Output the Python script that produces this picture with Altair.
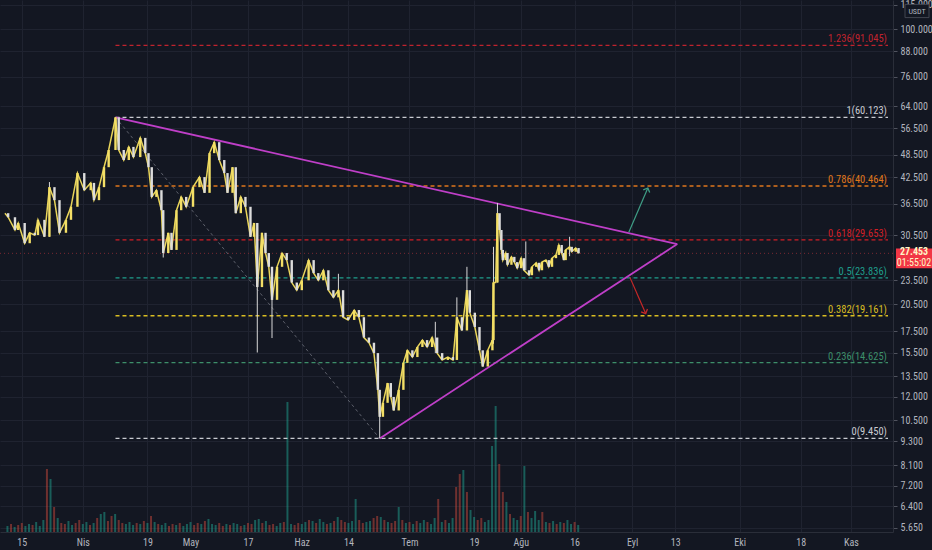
import altair as alt
import pandas as pd

BG = "#131722"
GRID = "#1f2330"
AXIS_TXT = "#b2b5be"
FONT = "Liberation Sans Narrow, Roboto Condensed, Liberation Sans, sans-serif"

# ---------------- axis ticks ----------------
tick_days = [0, 17, 35, 47, 63, 78, 91, 108, 126, 139, 154, 170, 182, 200, 217, 231]
tick_labels = ["15", "Nis", "19", "May", "17", "Haz", "14", "Tem", "19", "Ağu", "16",
               "Eyl", "13", "Eki", "18", "Kas"]
price_ticks = [5.65, 6.4, 7.2, 8.1, 9.3, 10.5, 12, 13.5, 15.5, 17.5, 20.5, 23.5, 30.5,
               36.5, 42.5, 48.5, 56.5, 64, 76, 88, 100, 115]
X_MIN, X_MAX = -4.68, 241.3
Y_MIN, Y_MAX = 5.51, 118.2

# ---------------- price path (day offset from 15 Mar, close) ----------------
day = [-4.7, -3.8, -1.9, -1.0, 0.8, 2.2, 3.6, 4.5, 6.3, 7.7, 9.1, 10.5, 12.3, 13.7, 15.5,
       17.4, 19.2, 20.1, 21.5, 22.9, 24.2, 26.1, 27.0, 28.4, 29.8, 31.1, 33.0, 34.4, 35.3,
       36.2, 37.5, 38.9, 39.4, 40.8, 41.7, 43.1, 44.4, 45.8, 47.7, 49.5, 50.9, 52.3, 53.6,
       55.0, 56.4, 57.3, 58.7, 59.6, 61.0, 62.3, 63.7, 64.7, 65.6, 66.9, 67.9, 68.8, 69.7,
       71.1,
       72.5, 73.8, 75.2, 76.6, 78.0, 79.9, 81.3, 82.6, 84.0, 85.4, 86.8, 88.2, 89.5, 90.9,
       92.6, 93.9, 95.3, 96.7, 98.1, 99.2, 99.7, 100.6, 101.9, 102.8, 103.6, 105.0, 106.3,
       107.4, 108.8, 110.2, 111.6, 112.9, 114.3, 115.7, 117.1, 118.7, 120.1, 121.2, 122.6,
       124.0, 124.8, 126.2, 127.5, 128.4, 129.8, 131.1, 131.4, 132.0, 132.5, 133.1, 133.6,
       134.0, 134.8, 135.3, 136.4, 137.2, 138.0, 139.1, 139.9, 141.3, 142.1, 143.3, 144.1,
       144.9, 146.0, 146.8, 147.7, 148.8, 149.6, 150.4, 151.0, 151.5, 152.6, 153.2, 154.3,
       155.1]
close = [34.6, 33.8, 31.4, 32.7, 29.1, 30.9, 30.5, 33.3, 30.2, 40.2, 37.3, 30.9, 33.3, 35.9,
         43.6, 39.5, 41.2, 37.3, 40.2, 45.1, 49.8, 60.1, 49.8, 47.0, 50.7, 47.8, 53.4, 48.9,
         45.1, 38.0, 39.5, 35.2, 27.5, 30.9, 28.0, 35.2, 38.0, 35.9, 40.2, 42.6, 38.9, 48.9,
         52.1, 47.0, 43.6, 38.9, 45.1, 34.6, 38.0, 35.9, 30.2, 32.7, 22.6, 30.9, 27.5, 25.4,
         21.0, 25.4,
         27.5, 26.4, 23.2, 22.2, 23.5, 26.4, 24.5, 23.5, 24.9, 22.2, 21.3, 22.2, 19.0, 18.7,
         19.8, 19.0, 16.9, 16.4, 15.45, 12.5, 10.7, 11.6, 13.0, 12.0, 11.1, 12.5, 14.6, 15.7,
         15.1, 16.0, 16.65, 16.0, 16.9, 15.45, 14.85, 15.1, 14.85, 19.0, 17.6, 22.2, 19.5,
         17.95, 15.7, 14.3, 15.7, 16.65, 23.2, 23.2, 34.6, 31.4, 28.0,
         26.4, 27.5, 25.7, 26.9, 26.1, 25.2, 26.7, 24.9, 24.2, 25.4, 26.0, 24.9, 26.1, 26.4,
         25.4, 26.7, 27.2, 28.8, 27.5, 26.4, 28.0, 28.5, 27.7, 28.3, 27.45]

# notable wicks: day, low, high
wick_day = [7.7, 26.1, 39.4, 65.6, 69.7, 88.2, 99.7, 115.2, 121.2, 124.0, 131.4, 132.5, 140.4, 152.6]
wick_low = [30.2, 49.8, 26.8, 15.5, 16.85, 21.5, 9.45, 15.45, 17.0, 19.5, 16.3, 23.2, 24.9, 27.0]
wick_high = [41.4, 60.12, 35.2, 32.7, 25.4, 24.4, 12.5, 18.5, 21.3, 25.4, 28.5, 36.7, 29.4, 30.2]

# ---------------- volume (daily) ----------------
vol_day = list(range(-4, 156))
vol = [6, 8, 5, 7, 9, 6, 8, 7, 10, 6, 12, 63, 53, 25, 14, 9, 8, 11, 7, 9,
       12, 8, 10, 7, 9, 14, 18, 20, 11, 16, 18, 12, 9, 8, 10, 7, 9, 8, 11, 9,
       16, 10, 8, 7, 9, 6, 8, 7, 9, 6, 8, 10, 7, 9, 8, 11, 13, 8, 7, 9,
       6, 8, 7, 9, 8, 6, 7, 9, 8, 12, 13, 9, 11, 7, 8, 6, 9, 10, 130, 8,
       7, 9, 8, 10, 12, 11, 9, 13, 10, 8, 9, 11, 15, 12, 10, 9, 11, 33, 12, 9,
       10, 11, 14, 16, 15, 12, 10, 9, 11, 25, 12, 9, 10, 8, 11, 9, 12, 10, 8, 14,
       33, 10, 12, 9, 14, 45, 58, 62, 40, 22, 15, 12, 14, 10, 12, 86, 126, 68, 40, 30,
       18, 14, 12, 16, 66, 20, 14, 21, 12, 20, 10, 9, 11, 8, 10, 9, 12, 8, 10, 7]
vol_dir = list("grgrrggrgg" "grgrgrrggr" "rggrgrggrr" "grrgggrgrg" "rgrggrrgrg"
               "ggrrgrgggr" "rgrggrgrrg" "grgrrggrgg" "rrggrgrggr" "grgrrgggrr"
               "ggrrgrgrrg" "rgrgrggrgg" "rgrggrrgrg" "grrggggrrg" "rggrgrgggr"
               "grgrgrggrg")
vol_colors = {"g": "#1fa38f", "r": "#cc4a3c"}

# ---------------- fibonacci levels ----------------
fib_ratio = ["1.236", "1", "0.786", "0.618", "0.5", "0.382", "0.236", "0"]
fib_price = [91.045, 60.123, 40.464, 29.653, 23.836, 19.161, 14.625, 9.450]
fib_color = ["#c0232e", "#c9cbd1", "#e0771c", "#d11f26", "#1f9e8c", "#d9bd22", "#3d8f6a", "#c9cbd1"]
fib_start_day = 26.1

# ---------------- drawings ----------------
tri_name = ["upper", "upper", "lower", "lower"]
tri_day = [26.1, 182.6, 99.7, 182.6]
tri_price = [60.123, 28.96, 9.45, 28.96]
diag_day = [26.1, 99.7]
diag_price = [60.123, 9.45]
arrow_name = ["up", "up", "down", "down"]
arrow_day = [169.1, 174.4, 169.4, 173.8]
arrow_price = [31.0, 40.0, 23.9, 19.4]
arrow_head_angle = [23, 156]
arrow_color = ["#3f9e86", "#c62828"]

last_price = [27.453]
last_time = ["01:55:02"]
quote_ccy = ["USDT"]

# ---------------- data frames ----------------
opens = [close[0]] + close[:-1]
candles = pd.DataFrame({"day": day, "open": opens, "close": close})
candles["col"] = ["#f3df66" if c >= o else "#dcdcdc" for o, c in zip(opens, close)]
wicks = pd.DataFrame({"day": wick_day, "low": wick_low, "high": wick_high})
volume = pd.DataFrame({"day": vol_day, "vol": vol})
volume["col"] = [vol_colors[d] for d in vol_dir]
fib = pd.DataFrame({"ratio": fib_ratio, "price": fib_price, "col": fib_color})
fib["label"] = [f"{r}({p:.3f})" for r, p in zip(fib_ratio, fib_price)]
fib["start"] = fib_start_day
fib["end"] = X_MAX
fib["lx"] = X_MAX - 0.3
tri = pd.DataFrame({"name": tri_name, "day": tri_day, "price": tri_price})
diag = pd.DataFrame({"day": diag_day, "price": diag_price})
arrows = pd.DataFrame({"name": arrow_name, "day": arrow_day, "price": arrow_price})
arrows["col"] = [arrow_color[0] if n == "up" else arrow_color[1] for n in arrow_name]
heads = pd.DataFrame({"name": ["up", "down"], "day": arrow_day[1::2],
                      "price": arrow_price[1::2], "angle": arrow_head_angle,
                      "col": arrow_color})
last = pd.DataFrame({"day": [X_MAX], "price": last_price, "time": last_time})
ccy = pd.DataFrame({"ccy": quote_ccy})

# ---------------- encodings ----------------
x_expr = ("[" + ",".join(f"'{l}'" for l in tick_labels) + "][indexof(["
          + ",".join(str(d) for d in tick_days) + "], datum.value)]")
x_axis = alt.Axis(values=tick_days, labelExpr=x_expr, title=None, grid=True, gridColor=GRID,
                  ticks=False, domain=True, domainColor="#2a2e39", labelColor=AXIS_TXT,
                  labelFontSize=10, labelFont=FONT, labelPadding=5, labelFlush=False)
x_scale = alt.Scale(domain=[X_MIN, X_MAX], nice=False, zero=False)
y_axis = alt.Axis(orient="right", values=price_ticks, format=".3f", title=None, grid=True,
                  gridColor=GRID, ticks=True, tickSize=4, tickColor="#50535e", domain=True,
                  domainColor="#2a2e39", labelColor=AXIS_TXT, labelFontSize=10,
                  labelFont=FONT, labelPadding=3, labelFlush=False, labelOverlap=False)
y_scale = alt.Scale(type="log", domain=[Y_MIN, Y_MAX], nice=False, zero=False)


def X(f):
    return alt.X(f, type="quantitative", scale=x_scale, axis=x_axis)


def Y(f):
    return alt.Y(f, type="quantitative", scale=y_scale, axis=y_axis)


def C(f):
    return alt.Color(f, type="nominal", scale=None)


# volume
vol_layer = alt.Chart(volume).mark_bar(width=2, opacity=0.5).encode(
    x=X("day"),
    y=alt.Y("vol:Q", scale=alt.Scale(domain=[0, 532], nice=False), axis=None),
    color=C("col"),
)

price_line = alt.Chart(last).mark_rule(color="#7a2a33", strokeDash=[1, 3], strokeWidth=1).encode(
    x=alt.value(0), x2=alt.value(893), y=Y("price"))

fib_rules = alt.Chart(fib).mark_rule(strokeWidth=1.3, strokeDash=[4, 3]).encode(
    x=X("start"), x2="end", y=Y("price"), color=C("col"))
fib_text = alt.Chart(fib).mark_text(align="right", baseline="bottom", dy=-1, fontSize=10.5,
                                    font=FONT).encode(
    x=X("lx"), y=Y("price"), text="label:N", color=C("col"))

diag_layer = alt.Chart(diag).mark_line(color="#5d606b", strokeDash=[3, 3], strokeWidth=1).encode(
    x=X("day"), y=Y("price"))

tri_layer = alt.Chart(tri).mark_line(color="#bf3fc8", strokeWidth=1.8).encode(
    x=X("day"), y=Y("price"), detail="name:N")

arrow_lines = alt.Chart(arrows).mark_line(strokeWidth=1.2).encode(
    x=X("day"), y=Y("price"), detail="name:N", color=C("col"))
arrow_heads = alt.Chart(heads).mark_point(shape="M-1,1L0,0L1,1", filled=False, size=49,
                                          strokeWidth=1.3, opacity=1).encode(
    x=X("day"), y=Y("price"), angle=alt.Angle("angle:Q", scale=None), color=C("col"))

wick_layer = alt.Chart(wicks).mark_rule(color="#d8d8d8", strokeWidth=1).encode(
    x=X("day"), y=Y("low"), y2="high")

close_line = alt.Chart(candles).mark_line(color="#e9d55a", strokeWidth=1.5).encode(
    x=X("day"), y=Y("close"))

bodies = alt.Chart(candles).mark_rule(strokeWidth=2.4).encode(
    x=X("day"), y=Y("open"), y2="close", color=C("col"))

price_box = alt.Chart(last).mark_point(shape="M-1,-0.55L1,-0.55L1,0.55L-1,0.55Z", filled=True,
                                       size=1296, color="#f23645", opacity=1, yOffset=5).encode(
    x=alt.value(914), y=Y("price"))
price_txt = alt.Chart(last).mark_text(color="#fff6c8", fontSize=10, font=FONT, dy=-1,
                                      fontWeight="bold").encode(
    x=alt.value(914), y=Y("price"), text=alt.Text("price:Q", format=".3f"))
time_txt = alt.Chart(last).mark_text(color="#fff6c8", fontSize=10, font=FONT, dy=10).encode(
    x=alt.value(914), y=Y("price"), text="time:N")

ccy_box = alt.Chart(ccy).mark_point(shape="M-1,-0.55L1,-0.55L1,0.55L-1,0.55Z", filled=True,
                                    size=576, color=BG, stroke="#434651", strokeWidth=1,
                                    opacity=1).encode(x=alt.value(917), y=alt.value(11))
ccy_txt = alt.Chart(ccy).mark_text(color=AXIS_TXT, fontSize=8, font=FONT).encode(
    x=alt.value(917), y=alt.value(11.5), text="ccy:N")

price_layers = alt.layer(price_line, fib_rules, fib_text, diag_layer, tri_layer, arrow_lines,
                         arrow_heads, wick_layer, close_line, bodies, price_box, price_txt,
                         time_txt, ccy_box, ccy_txt)

chart = alt.layer(vol_layer, price_layers).resolve_scale(
    y="independent", color="independent"
).properties(
    width=893, height=532, background=BG,
    autosize=alt.AutoSizeParams(type="none"),
    padding={"left": 0, "top": 0, "right": 39, "bottom": 18},
).configure_view(stroke=None)

chart.save("out.html", embed_options={"renderer": "svg", "actions": False})
